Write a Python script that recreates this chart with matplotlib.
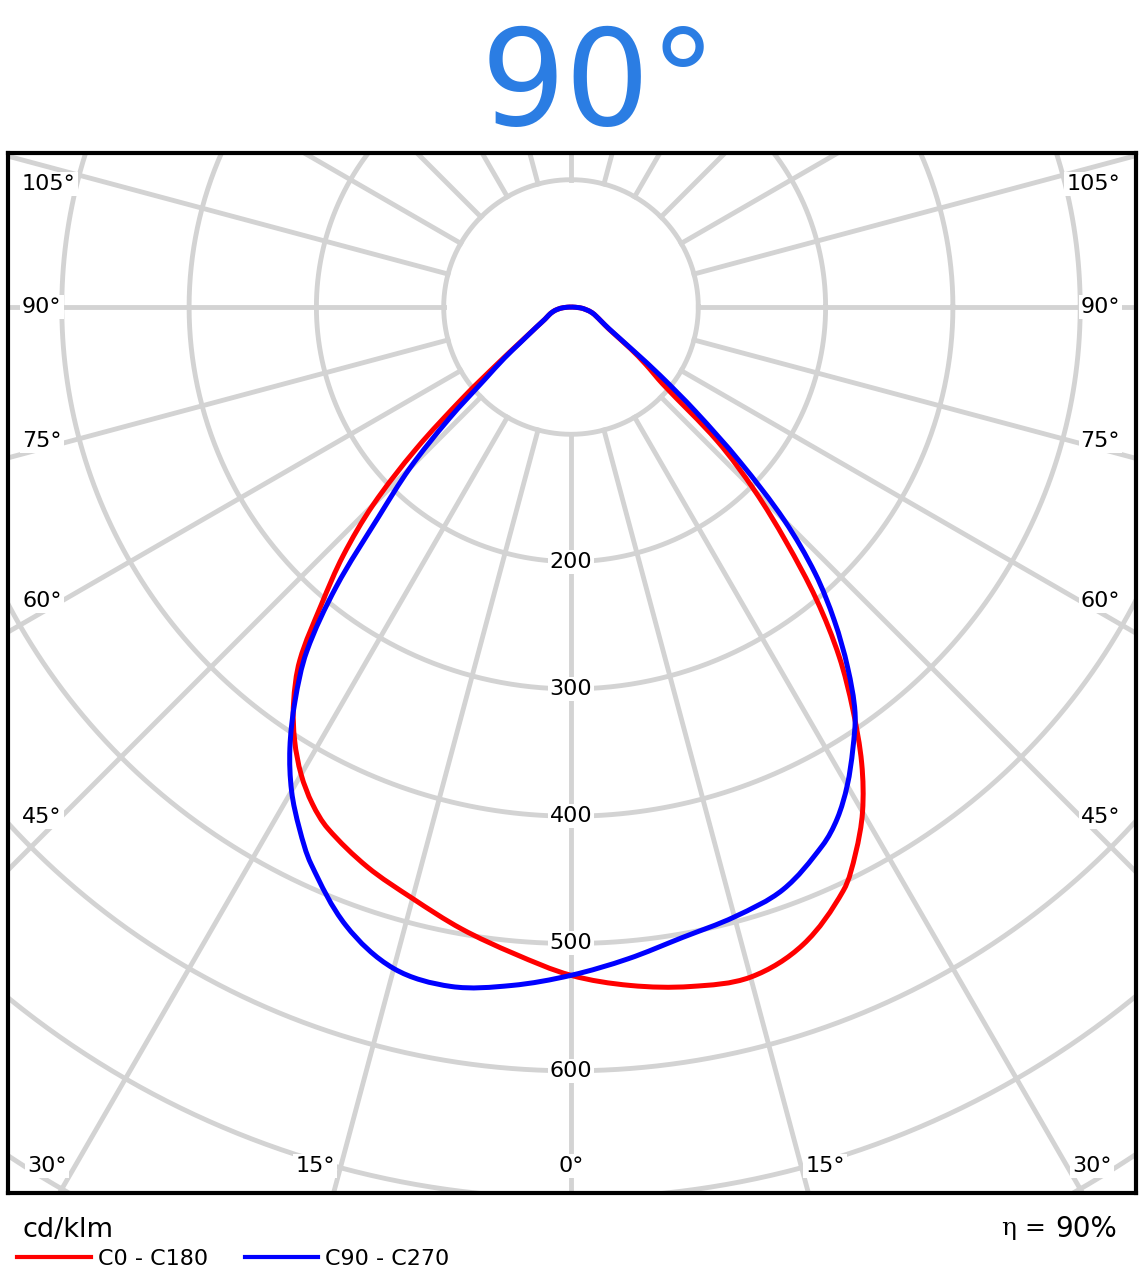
import numpy as np
import matplotlib.pyplot as plt
from matplotlib.path import Path
from matplotlib.patches import PathPatch

# gamma angle from nadir (deg) where the curves were read
gamma = [0, 5, 10, 15, 20, 25, 27.5, 30, 32.5, 35, 37.5, 40, 42.5, 45,
         47.5, 50, 52.5, 55, 60, 65, 70, 75, 80, 85, 90]

# cd/klm, one list per half plane
c0 = [525, 535, 542, 545, 533, 506, 484, 458, 425, 386, 346, 300, 250, 204,
      156, 94, 74, 57, 34, 26, 21, 17, 12, 7, 0]
c180 = [525, 510, 496, 481, 468, 452, 440, 424, 404, 380, 350, 305, 265, 220,
        165, 110, 71, 50, 31, 22.5, 18.5, 15, 11, 6, 0]
c90 = [525, 514, 503, 496, 487, 467, 453, 434, 412, 389, 357, 322, 284, 237,
       180, 128, 88, 60, 35, 26, 21, 17, 12, 7, 0]
c270 = [525, 535, 542, 538, 517, 483, 462, 439, 411, 378, 341, 287, 224, 179,
        130, 88, 66, 48, 31, 22.5, 18.5, 15, 11, 6, 0]

rings = [100, 200, 300, 400, 500, 600, 700, 800, 900]
ring_labels = [200, 300, 400, 500, 600]
spokes = np.arange(0, 360, 15)

side_labels = ['105°', '90°', '75°', '60°', '45°']
bottom_labels = ['30°', '15°', '0°', '15°', '30°']

W, H = 1143, 1287
GRID = '#d3d3d3'

def px(x, y):
    return x / W, 1 - y / H

def half_curve(gam, left, right):
    # left half runs 90 -> 0, right half 0 -> 90
    g = np.radians(gam)
    xl = -np.array(left) * np.sin(g)
    yl = -np.array(left) * np.cos(g)
    xr = np.array(right) * np.sin(g)
    yr = -np.array(right) * np.cos(g)
    return np.r_[xl[::-1], xr[1:]], np.r_[yl[::-1], yr[1:]]

def smooth_path(x, y):
    # bezier through the measured points (chord length tangents)
    p = np.column_stack([x, y])
    d = np.linalg.norm(np.diff(p, axis=0), axis=1)
    n = len(p)
    m = np.zeros_like(p)
    for i in range(n):
        a, b = max(i - 1, 0), min(i + 1, n - 1)
        m[i] = (p[b] - p[a]) / max(np.linalg.norm(p[b] - p[a]), 1e-9)
    verts, codes = [p[0]], [Path.MOVETO]
    for i in range(n - 1):
        verts += [p[i] + m[i] * d[i] / 3, p[i + 1] - m[i + 1] * d[i] / 3, p[i + 1]]
        codes += [Path.CURVE4] * 3
    return Path(verts, codes)

fig = plt.figure(figsize=(W / 100, H / 100), dpi=100)
# frame of the diagram: centre at (571, 307) px, 1.273 px per cd/klm
s = 1.273
ax = fig.add_axes([8 / W, (H - 1193) / H, 1128 / W, 1040 / H])
ax.set_xlim((8 - 571) / s, (1136 - 571) / s)
ax.set_ylim(-(1193 - 307) / s, (307 - 153) / s)
ax.set_aspect('equal')
ax.set_xticks([])
ax.set_yticks([])
for sp in ax.spines.values():
    sp.set_linewidth(3)
    sp.set_color('black')
    sp.set_zorder(10)

t = np.linspace(0, 2 * np.pi, 721)
for r in rings:
    ax.plot(r * np.cos(t), r * np.sin(t), color=GRID, lw=3.5, zorder=1)
for a in spokes:
    ar = np.radians(a)
    ax.plot([100 * np.sin(ar), 1200 * np.sin(ar)],
            [-100 * np.cos(ar), -1200 * np.cos(ar)],
            color=GRID, lw=3.5, zorder=1)

for v in ring_labels:
    ax.text(0, -v, str(v), ha='center', va='center', fontsize=16, zorder=3,
            bbox=dict(facecolor='white', edgecolor='none', pad=1.5))

x, y = half_curve(gamma, c180, c0)
ax.add_patch(PathPatch(smooth_path(x, y), fill=False, edgecolor='#ff0000',
                       lw=3.6, zorder=4, joinstyle='round'))
x, y = half_curve(gamma, c270, c90)
ax.add_patch(PathPatch(smooth_path(x, y), fill=False, edgecolor='#0000ff',
                       lw=3.6, zorder=5, joinstyle='round'))

# angle labels along the frame
lab_box = dict(facecolor='white', edgecolor='none', pad=1.5)
for lab, yy in zip(side_labels, [184, 307, 441, 601, 817]):
    fig.text(*px(22, yy), lab, ha='left', va='center', fontsize=16,
             bbox=lab_box, zorder=6)
    fig.text(*px(1120, yy), lab, ha='right', va='center', fontsize=16,
             bbox=lab_box, zorder=6)
for lab, xx in zip(bottom_labels, [47, 315, 571, 825, 1092]):
    fig.text(*px(xx, 1166), lab, ha='center', va='center', fontsize=16,
             bbox=lab_box, zorder=6)

fig.text(*px(599, 125), '90°', ha='center', va='baseline', fontsize=96,
         color='#2b7de3', family='DejaVu Sans')

fig.text(*px(22, 1237), 'cd/klm', ha='left', va='baseline', fontsize=19.5)
fig.lines.append(plt.Line2D([17 / W, 91 / W], [1 - 1257 / H] * 2, color='#ff0000',
                            lw=3, transform=fig.transFigure))
fig.lines.append(plt.Line2D([245 / W, 318 / W], [1 - 1257 / H] * 2, color='#0000ff',
                            lw=3, transform=fig.transFigure))
fig.text(*px(98, 1259), 'C0 - C180', ha='left', va='center', fontsize=16)
fig.text(*px(325, 1259), 'C90 - C270', ha='left', va='center', fontsize=16)

fig.text(*px(1117, 1237), '90%', ha='right', va='baseline', fontsize=20)
fig.text(*px(1046, 1235), 'η =', ha='right', va='baseline', fontsize=18,
         family='DejaVu Serif')

fig.savefig('out.png', dpi=100)
